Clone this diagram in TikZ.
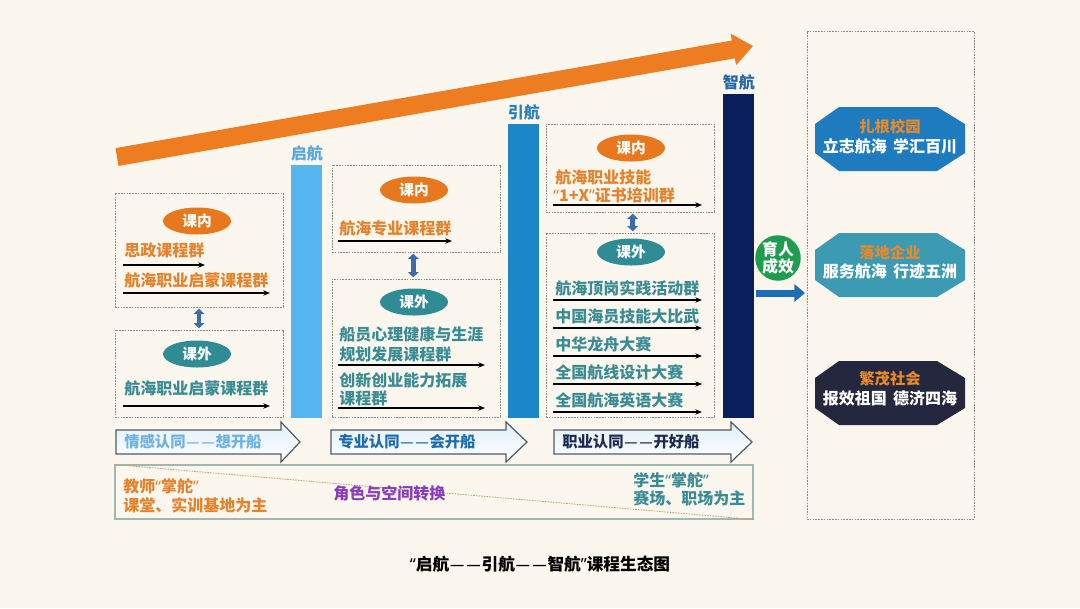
\documentclass[tikz,border=0pt]{standalone}
\usepackage{fontspec}
\setmainfont{Noto Sans CJK SC}
\newfontfamily\latinqf{Noto Sans}
\newcommand\oq{{\latinqf “}}
\newcommand\cq{{\latinqf ”}}
\newcommand\ddash{{\latinqf\kern0.05em\scalebox{0.85}[1]{—}\kern0.15em\scalebox{0.85}[1]{—}\kern0.05em}}
\usetikzlibrary{shapes.geometric,arrows.meta,shadings}
\definecolor{bg}{HTML}{FCF7EE}
\definecolor{bigor}{HTML}{EE7D22}
\definecolor{ellor}{HTML}{E8781E}
\definecolor{ellteal}{HTML}{2F8C95}
\definecolor{txtor}{HTML}{E5832D}
\definecolor{txtteal}{HTML}{3A8C94}
\definecolor{barA}{HTML}{56B4EE}
\definecolor{barB}{HTML}{1B87C9}
\definecolor{barC}{HTML}{0A1F5C}
\definecolor{lblA}{HTML}{56A8DE}
\definecolor{lblB}{HTML}{2A80BE}
\definecolor{lblC}{HTML}{2468A8}
\definecolor{dashgray}{HTML}{8A8A8A}
\definecolor{dblc}{HTML}{3C6DAA}
\definecolor{chevline}{HTML}{505A66}
\definecolor{chevfill}{HTML}{CDE6F6}
\definecolor{chA}{HTML}{6DB2E2}
\definecolor{chB}{HTML}{1D6BA8}
\definecolor{chC}{HTML}{1C2A4E}
\definecolor{boxline}{HTML}{A0B8B4}
\definecolor{diagc}{HTML}{C8A060}
\definecolor{purp}{HTML}{8A3DBE}
\definecolor{hexA}{HTML}{1E7BBE}
\definecolor{hexB}{HTML}{3C9BB2}
\definecolor{hexC}{HTML}{25273F}
\definecolor{hexor}{HTML}{E8892A}
\definecolor{grn}{HTML}{1E9D4E}
\definecolor{arrblue}{HTML}{1E6EB5}
\newcommand\pxl[1]{#1*0.75pt}
\begin{document}
\begin{tikzpicture}[x=0.75pt,y=-0.75pt,
  lbl/.style={font=\bfseries\fontsize{12}{14}\selectfont, inner sep=0pt, anchor=west},
  otxt/.style={lbl, text=txtor},
  ttxt/.style={lbl, text=txtteal},
  uarr/.style={-{Stealth[length=5pt,width=4pt]}, line width=0.8pt, black},
  dbox/.style={draw=dashgray, dash pattern=on 1.2pt off 0.9pt, line width=0.5pt, inner sep=0pt},
  ell/.style={ellipse, minimum width=\pxl{68}, minimum height=\pxl{27}, inner sep=0pt, text=white, font=\bfseries\fontsize{11}{13}\selectfont},
  kenei/.style={ell, fill=ellor},
  kewai/.style={ell, fill=ellteal},
  dblarr/.style={{Triangle[length=4pt,width=8pt]}-{Triangle[length=4pt,width=8pt]}, line width=3.5pt, dblc, shorten >=1pt, shorten <=1pt},
  chev/.style={draw=chevline, line width=0.9pt, top color=chevfill!60, bottom color=white},
  chtxt/.style={font=\bfseries\fontsize{11.5}{13}\selectfont, inner sep=0pt, anchor=west},
  barbox/.style={anchor=north west, inner sep=0pt, minimum width=\pxl{31}},
  barlbl/.style={font=\bfseries\fontsize{12}{14}\selectfont, inner sep=0pt, anchor=south},
  hexttl/.style={font=\bfseries\fontsize{11.5}{13}\selectfont, text=hexor, inner sep=0pt},
  hexmain/.style={font=\bfseries\fontsize{12}{14}\selectfont, text=white, inner sep=0pt},
]
\useasboundingbox (0,0) rectangle (1080,608);
\fill[bg] (0,0) rectangle (1080,608);

% big orange arrow
\fill[bigor] (118.5,165.9) -- (734.8,58.3) -- (736.1,65.2) -- (753,46) -- (730.6,33.6) -- (731.8,40.5) -- (115.5,148.1) -- cycle;

% bars
\node[barbox, fill=barA, minimum height=\pxl{253}] (barA) at (291,165) {};
\node[barbox, fill=barB, minimum height=\pxl{294}] (barB) at (508,124) {};
\node[barbox, fill=barC, minimum height=\pxl{324}] (barC) at (723,94) {};
\node[barlbl, text=lblA] (lA) at ([yshift=3pt]barA.north) {启航};
\node[barlbl, text=lblB] (lB) at ([yshift=3pt]barB.north) {引航};
\node[barlbl, text=lblC] (lC) at ([yshift=3pt]barC.north) {智航};

% left column
\node[dbox, minimum width=\pxl{168}, minimum height=\pxl{114}] (L1) at (199,250) {};
\node[dbox, minimum width=\pxl{168}, minimum height=\pxl{87}] (L2) at (199,373.5) {};
\draw[dblarr] (L1.south) -- (L2.north);
\node[kenei] (L1e) at (197,221) {课内};
\node[otxt] (L1t1) at (124,250) {思政课程群};
\coordinate (L1a1s) at (123,265); \coordinate (L1a1e) at (205,265);
\draw[uarr] (L1a1s) -- (L1a1e);
\node[otxt] (L1t2) at (124,280) {航海职业启蒙课程群};
\coordinate (L1a2s) at (123,293); \coordinate (L1a2e) at (270,293);
\draw[uarr] (L1a2s) -- (L1a2e);
\node[kewai] (L2e) at (197,354) {课外};
\node[ttxt] (L2t1) at (124,388) {航海职业启蒙课程群};
\coordinate (L2a1s) at (123,406); \coordinate (L2a1e) at (270,406);
\draw[uarr] (L2a1s) -- (L2a1e);

% middle column
\node[dbox, minimum width=\pxl{168}, minimum height=\pxl{87}] (M1) at (416,208.5) {};
\node[dbox, minimum width=\pxl{168}, minimum height=\pxl{138}] (M2) at (416,348) {};
\draw[dblarr] ([xshift=-2pt]M1.south) -- ([xshift=-2pt]M2.north);
\node[kenei] (M1e) at (414,190) {课内};
\node[otxt] (M1t1) at (339,228) {航海专业课程群};
\coordinate (M1a1s) at (338,241); \coordinate (M1a1e) at (452,241);
\draw[uarr] (M1a1s) -- (M1a1e);
\node[kewai] (M2e) at (414,302) {课外};
\node[ttxt] (M2t1) at (339,334) {船员心理健康与生涯};
\node[ttxt] (M2t2) at (339,354) {规划发展课程群};
\coordinate (M2a1s) at (338,365); \coordinate (M2a1e) at (485,365);
\draw[uarr] (M2a1s) -- (M2a1e);
\node[ttxt] (M2t3) at (339,380) {创新创业能力拓展};
\node[ttxt] (M2t4) at (339,398) {课程群};
\coordinate (M2a2s) at (338,408); \coordinate (M2a2e) at (485,408);
\draw[uarr] (M2a2s) -- (M2a2e);

% right column
\node[dbox, minimum width=\pxl{168}, minimum height=\pxl{88}] (R1) at (630,168) {};
\node[dbox, minimum width=\pxl{168}, minimum height=\pxl{184}] (R2) at (630,325) {};
\draw[dblarr] ([xshift=2pt]R1.south) -- ([xshift=2pt]R2.north);
\node[kenei] (R1e) at (631,148) {课内};
\node[otxt] (R1t1) at (555,177) {航海职业技能};
\node[otxt] (R1t2) at (553,195) {\oq 1+X\cq 证书培训群};
\coordinate (R1a1s) at (553,205); \coordinate (R1a1e) at (702,205);
\draw[uarr] (R1a1s) -- (R1a1e);
\node[kewai] (R2e) at (631,252) {课外};
\node[ttxt] (R2t1) at (555,288) {航海顶岗实践活动群};
\coordinate (R2a1s) at (553,300); \coordinate (R2a1e) at (702,300);
\draw[uarr] (R2a1s) -- (R2a1e);
\node[ttxt] (R2t2) at (555,316) {中国海员技能大比武};
\coordinate (R2a2s) at (553,328); \coordinate (R2a2e) at (702,328);
\draw[uarr] (R2a2s) -- (R2a2e);
\node[ttxt] (R2t3) at (555,344) {中华龙舟大赛};
\coordinate (R2a3s) at (553,356); \coordinate (R2a3e) at (702,356);
\draw[uarr] (R2a3s) -- (R2a3e);
\node[ttxt] (R2t4) at (555,372) {全国航线设计大赛};
\coordinate (R2a4s) at (553,384); \coordinate (R2a4e) at (702,384);
\draw[uarr] (R2a4s) -- (R2a4e);
\node[ttxt] (R2t5) at (555,400) {全国航海英语大赛};
\coordinate (R2a5s) at (553,412); \coordinate (R2a5e) at (702,412);
\draw[uarr] (R2a5s) -- (R2a5e);

% chevrons
\path[chev] (116,430) -- (281,430) -- (281,422) -- (300,442) -- (281,462) -- (281,454) -- (116,454) -- cycle;
\node[chtxt, text=chA] (C1) at (124,442) {情感认同\ddash 想开船};
\path[chev] (331,430) -- (506,430) -- (506,422) -- (527,442) -- (506,462) -- (506,454) -- (331,454) -- cycle;
\node[chtxt, text=chB] (C2) at (338,442) {专业认同\ddash 会开船};
\path[chev] (554,430) -- (731,430) -- (731,422) -- (752,442) -- (731,462) -- (731,454) -- (554,454) -- cycle;
\node[chtxt, text=chC] (C3) at (562,442) {职业认同\ddash 开好船};

% bottom band
\node[draw=boxline, line width=0.8pt, inner sep=0pt, minimum width=\pxl{638}, minimum height=\pxl{54}] (band) at (434,492) {};
\draw[diagc, dash pattern=on 1.2pt off 0.8pt, line width=0.6pt] (band.north west) -- (band.south east);
\node[otxt] (bt1) at (123,486) {教师\oq 掌舵\cq};
\node[otxt] (bt2) at (123,505) {课堂、实训基地为主};
\node[lbl, text=purp] (bt3) at (333,493) {角色与空间转换};
\node[ttxt] (bt4) at (633,480) {学生\oq 掌舵\cq};
\node[ttxt] (bt5) at (633,498) {赛场、职场为主};

% right panel
\node[dbox, minimum width=\pxl{167}, minimum height=\pxl{488}] (panel) at (890.5,275) {};
\fill[hexA] (839,107) -- (937,107) -- (965,124) -- (965,153) -- (937,171) -- (839,171) -- (815,153) -- (815,124) -- cycle;
\node[hexttl] (h1a) at (890,127) {扎根校园};
\node[hexmain] (h1b) at (890,146) {立志航海\hspace{0.4em}学汇百川};
\fill[hexB] (839,233) -- (937,233) -- (965,250) -- (965,280) -- (937,297) -- (839,297) -- (815,280) -- (815,250) -- cycle;
\node[hexttl] (h2a) at (890,253) {落地企业};
\node[hexmain] (h2b) at (890,271) {服务航海\hspace{0.4em}行迹五洲};
\fill[hexC] (839,361) -- (937,361) -- (965,378) -- (965,408) -- (937,425) -- (839,425) -- (815,408) -- (815,378) -- cycle;
\node[hexttl] (h3a) at (890,379) {繁茂社会};
\node[hexmain] (h3b) at (890,398) {报效祖国\hspace{0.4em}德济四海};

% outcome
\node[circle, fill=grn, minimum size=\pxl{42}, inner sep=0pt, text=white, align=center, font=\bfseries\fontsize{12}{11.5}\selectfont] (yr) at (778,258) {育人\\成效};
\coordinate (oS) at (756,293); \coordinate (oE) at (805,293);
\draw[arrblue, line width=\pxl{7}, -{Triangle[length=8pt,width=13pt]}] (oS) -- (oE);

% title
\node[font=\bfseries\fontsize{12.5}{14}\selectfont, inner sep=0pt] (title) at (540,564) {\oq 启航\ddash 引航\ddash 智航\cq 课程生态图};
\end{tikzpicture}
\end{document}
